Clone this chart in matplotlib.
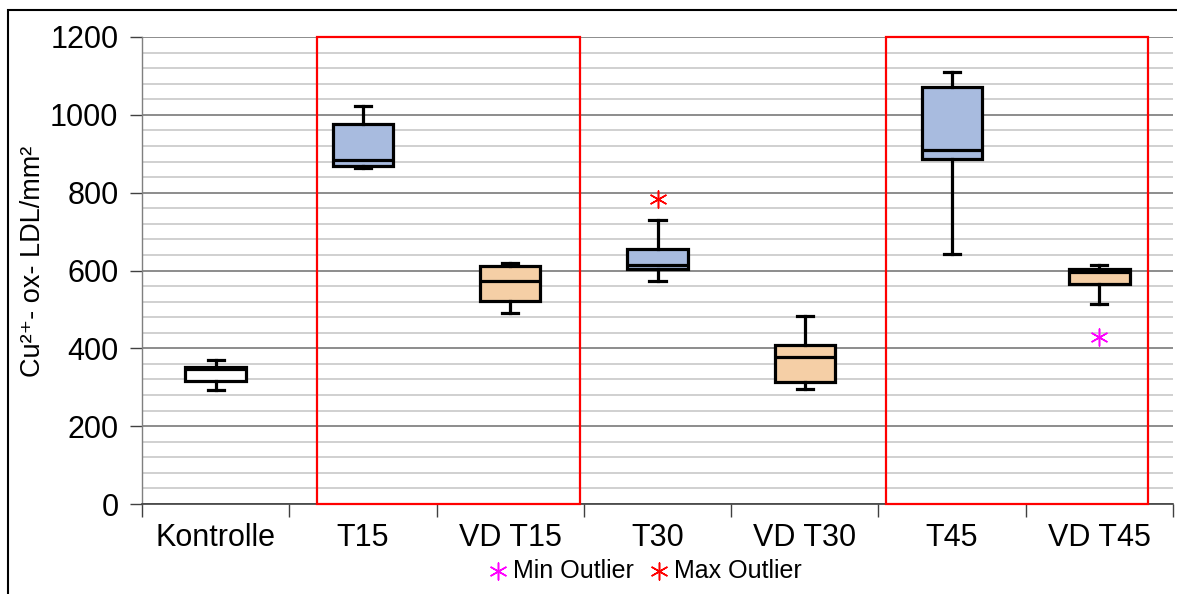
import matplotlib
matplotlib.use("Agg")
import matplotlib.pyplot as plt
from matplotlib.patches import Rectangle
from matplotlib.ticker import MultipleLocator, FixedLocator

plt.rcParams['font.family'] = ['Liberation Sans', 'DejaVu Sans']

# Box plot summary per group
groups = ["Kontrolle", "T15", "VD T15", "T30", "VD T30", "T45", "VD T45"]
whisker_low = [294, 863, 491, 573, 295, 643, 513]
q1 = [315, 868, 522, 604, 313, 887, 566]
median = [348, 883, 572, 614, 377, 910, 595]
q3 = [351, 976, 612, 654, 408, 1072, 603]
whisker_high = [371, 1023, 620, 730, 482, 1109, 614]
fills = ["white", "#a8bbdf", "#f5cfa6", "#a8bbdf", "#f5cfa6", "#a8bbdf", "#f5cfa6"]

# Outliers
max_outlier_group = ["T30"]
max_outlier_value = [785]
min_outlier_group = ["VD T45"]
min_outlier_value = [428]

# Highlighted group ranges (category units)
highlight_x0 = [0.688, 4.55]
highlight_x1 = [2.473, 6.33]

fig = plt.figure(figsize=(11.77, 5.94), dpi=100)
ax = fig.add_axes([142 / 1177, 1 - 504 / 594, 1031 / 1177, 467 / 594])

stats = []
for i, g in enumerate(groups):
    stats.append(dict(label=g, whislo=whisker_low[i], q1=q1[i], med=median[i],
                      q3=q3[i], whishi=whisker_high[i], fliers=[]))

pos = list(range(len(groups)))
lw = 2.3
bp = ax.bxp(stats, positions=pos, widths=0.41, patch_artist=True, showfliers=False,
            boxprops=dict(linewidth=lw, edgecolor="black"),
            medianprops=dict(color="black", linewidth=lw),
            whiskerprops=dict(color="black", linewidth=lw),
            capprops=dict(color="black", linewidth=lw),
            capwidths=0.11, zorder=4)
for patch, c in zip(bp["boxes"], fills):
    patch.set_facecolor(c)

ax.scatter([groups.index(g) for g in min_outlier_group], min_outlier_value,
           marker=(6, 2, 0), s=150, color="#ff00ff", linewidths=1.1, zorder=5,
           label="Min Outlier")
ax.scatter([groups.index(g) for g in max_outlier_group], max_outlier_value,
           marker=(6, 2, 0), s=150, color="#ff0000", linewidths=1.1, zorder=5,
           label="Max Outlier")

for x0, x1 in zip(highlight_x0, highlight_x1):
    ax.add_patch(Rectangle((x0, 0), x1 - x0, 1200, fill=False, edgecolor="#ff0000",
                           linewidth=1.6, zorder=3, clip_on=False))

ax.set_xlim(-0.5, len(groups) - 0.5)
ax.set_ylim(0, 1200)

ax.yaxis.set_major_locator(MultipleLocator(200))
ax.yaxis.set_minor_locator(MultipleLocator(40))
ax.grid(which="major", axis="y", color="#8c8c8c", linewidth=1.4, zorder=1)
ax.grid(which="minor", axis="y", color="#cdcdcd", linewidth=1.3, zorder=1)
ax.set_axisbelow(True)

ax.xaxis.set_major_locator(FixedLocator([i - 0.5 for i in range(len(groups) + 1)]))
ax.xaxis.set_minor_locator(FixedLocator(pos))
ax.set_xticklabels([])
ax.set_xticklabels(groups, minor=True)
ax.tick_params(axis="x", which="major", length=9, width=1, color="#404040", direction="out")
ax.tick_params(axis="x", which="minor", length=0, labelsize=22, pad=14)
ax.tick_params(axis="y", which="major", length=9, width=1, color="#404040", labelsize=22, pad=8)
ax.tick_params(axis="y", which="minor", length=0)

for s in ["top", "right"]:
    ax.spines[s].set_visible(False)
ax.spines["left"].set_color("#7f7f7f")
ax.spines["bottom"].set_color("#404040")
ax.spines["left"].set_linewidth(1.0)
ax.spines["bottom"].set_linewidth(1.2)

ax.set_ylabel("Cu²⁺- ox- LDL/mm²", fontsize=19.5)
ax.yaxis.set_label_coords(-0.093, 0.52)

fig.legend(loc="center", bbox_to_anchor=(637 / 1177, 1 - 571 / 594), ncol=2,
           frameon=False, fontsize=18, handletextpad=-0.4, columnspacing=0.0,
           markerscale=1.0)

# Outer frame
fig.patches.append(Rectangle((8 / 1177, -0.05), 1.1, 1 - 10 / 594 + 0.05,
                             transform=fig.transFigure, fill=False,
                             edgecolor="black", linewidth=1.5))

fig.savefig("out.png", dpi=100)
